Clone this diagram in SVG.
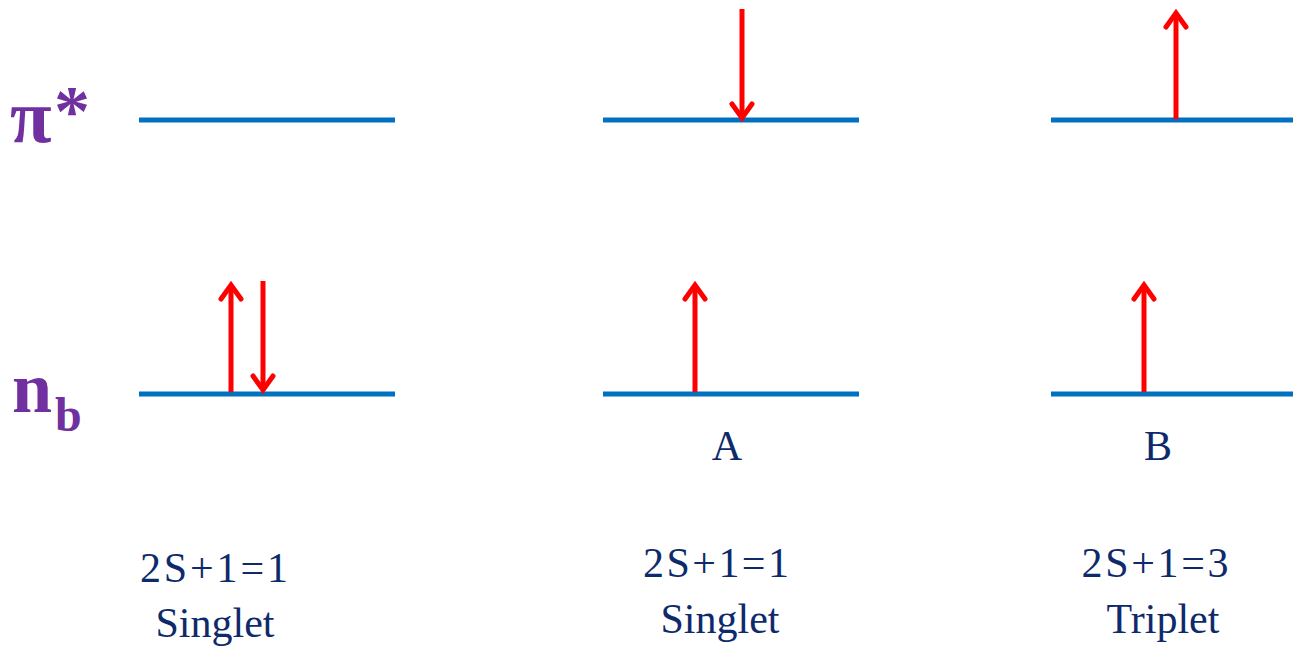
<svg xmlns="http://www.w3.org/2000/svg" width="1293" height="653" viewBox="0 0 1293 653">
<style>
.lvl{stroke:#0070C0;stroke-width:5;fill:none}
.arr{stroke:#FF0000;stroke-width:5;fill:none;stroke-linecap:butt}
.hd{stroke:#FF0000;stroke-width:5;fill:none;stroke-linecap:round;stroke-linejoin:miter}
.lab{font-family:"Liberation Serif",serif;fill:#0E2A6B;font-size:42px;text-anchor:middle}
.sym{font-family:"Liberation Serif",serif;fill:#7030A0;font-weight:bold}
</style>
<rect width="1293" height="653" fill="#fff"/>
<g id="labels-left">
<text class="sym" x="10" y="142" font-size="76">π</text>
<text class="sym" x="54" y="135" font-size="72">*</text>
<text class="sym" x="12" y="412" font-size="72">n</text>
<text class="sym" x="55" y="431" font-size="48">b</text>
</g>
<g id="levels">
<line class="lvl" x1="139" y1="120" x2="395" y2="120"/>
<line class="lvl" x1="603" y1="120" x2="859" y2="120"/>
<line class="lvl" x1="1051" y1="120" x2="1293" y2="120"/>
<line class="lvl" x1="139" y1="394" x2="395" y2="394"/>
<line class="lvl" x1="603" y1="394" x2="859" y2="394"/>
<line class="lvl" x1="1051" y1="394" x2="1293" y2="394"/>
</g>
<g id="connectors">
<line class="arr" x1="231" y1="392" x2="231" y2="286"/>
<polyline class="hd" points="221,299 231,285 241,299"/>
<line class="arr" x1="263" y1="281" x2="263" y2="388"/>
<polyline class="hd" points="253,376 263,390 273,376"/>
<line class="arr" x1="742" y1="9" x2="742" y2="115"/>
<polyline class="hd" points="732,104 742,118 752,104"/>
<line class="arr" x1="695" y1="392" x2="695" y2="286"/>
<polyline class="hd" points="685,299 695,285 705,299"/>
<line class="arr" x1="1176" y1="119" x2="1176" y2="14"/>
<polyline class="hd" points="1166,27 1176,13 1186,27"/>
<line class="arr" x1="1144" y1="392" x2="1144" y2="286"/>
<polyline class="hd" points="1134,299 1144,285 1154,299"/>
</g>
<g id="text-left">
<text class="lab" x="214" y="582" textLength="148" lengthAdjust="spacing">2S+1=1</text>
<text class="lab" x="215" y="637">Singlet</text>
</g>
<g id="text-mid">
<text class="lab" x="727" y="460" font-size="36">A</text>
<text class="lab" x="716" y="577" textLength="146" lengthAdjust="spacing">2S+1=1</text>
<text class="lab" x="720" y="633">Singlet</text>
</g>
<g id="text-right">
<text class="lab" x="1158" y="460" font-size="36">B</text>
<text class="lab" x="1155" y="577" textLength="147" lengthAdjust="spacing">2S+1=3</text>
<text class="lab" x="1163" y="633">Triplet</text>
</g>
</svg>
